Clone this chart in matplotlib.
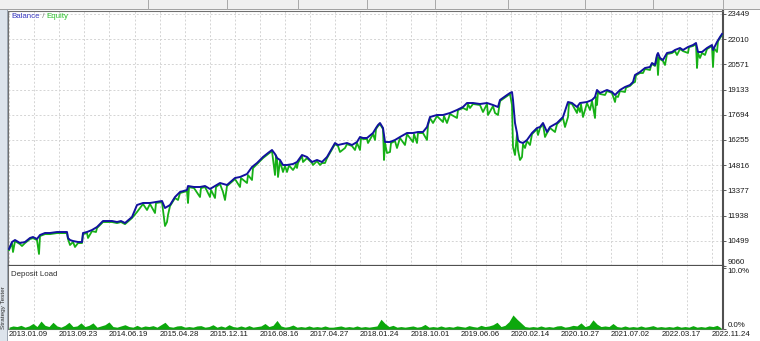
import numpy as np
import matplotlib.pyplot as plt
from matplotlib.patches import Rectangle

plt.rcParams['font.family'] = ['Liberation Sans', 'DejaVu Sans']
plt.rcParams['font.size'] = 5.7

# balance curve: deal position, account value
bal_x = [0, 3, 6, 11, 16, 21, 24, 28, 31, 36,
         41, 48, 54, 58, 59, 61, 64, 69, 73, 74,
         78, 83, 88, 91, 94, 98, 103, 108, 112, 116,
         123, 128, 134, 141, 147, 153, 156, 161, 166, 171,
         178, 179, 185, 191, 196, 201, 206, 211, 218, 226,
         231, 238, 243, 248, 254, 259, 263, 266, 268, 271,
         274, 278, 284, 288, 293, 298, 303, 308, 313, 318,
         322, 326, 329, 338, 343, 348, 351, 354, 358, 364,
         367, 369, 371, 374, 376, 381, 386, 391, 398, 404,
         409, 414, 418, 421, 428, 434, 441, 448, 454, 458,
         464, 471, 478, 484, 489, 491, 498, 501, 503, 504,
         506, 508, 509, 511, 514, 518, 523, 528, 531, 534,
         538, 541, 548, 554, 559, 563, 568, 571, 578, 583,
         586, 588, 591, 598, 603, 606, 611, 616, 621, 624,
         626, 631, 636, 641, 643, 646, 648, 649, 651, 654,
         658, 663, 666, 671, 674, 679, 684, 687, 689, 693,
         698, 703, 704, 708, 711, 713]
bal_v = [10031, 10430, 10544, 10373, 10430, 10659, 10716, 10602, 10830, 10944,
         10944, 11001, 11001, 11001, 10659, 10544, 10487, 10430, 10430, 10944,
         11001, 11115, 11287, 11458, 11629, 11629, 11629, 11572, 11629, 11515,
         11858, 12543, 12658, 12658, 12715, 12772, 12372, 12543, 12999, 13285,
         13399, 13628, 13571, 13571, 13628, 13457, 13628, 13799, 13685, 14085,
         14142, 14313, 14713, 14941, 15284, 15512, 15684, 15455, 15227, 15113,
         14827, 14827, 14884, 14998, 15398, 15284, 14998, 15113, 14998, 15284,
         15684, 16083, 15969, 16083, 15969, 16140, 16426, 16369, 16369, 16654,
         16940, 17111, 17225, 16940, 16140, 16140, 16255, 16426, 16654, 16654,
         16711, 16711, 16997, 17568, 17682, 17682, 17796, 17968, 18139, 18367,
         18367, 18310, 18367, 18253, 18139, 18539, 18824, 18938, 18995, 18539,
         17225, 16654, 16255, 16140, 16083, 16255, 16654, 16940, 16997, 17225,
         16711, 16997, 17225, 17568, 18424, 18367, 18139, 18367, 18424, 18539,
         18710, 19110, 18938, 19110, 18995, 18824, 19110, 19281, 19395, 19566,
         19966, 20137, 20366, 20423, 20651, 20537, 21108, 21222, 20937, 20823,
         21222, 21279, 21394, 21508, 21394, 21565, 21679, 21793, 21279, 21279,
         21508, 21679, 21394, 21850, 22136, 22307]

# equity curve (deal position, value), with the floating drawdowns
equity = [(0, 9970), (3, 10370), (4, 9859), (6, 10480), (11, 10310), (13, 10200), (16, 10370),
          (21, 10600), (24, 10650), (28, 10540), (30, 9745), (31, 10770), (36, 10880), (41, 10880),
          (48, 10940), (54, 10940), (58, 10940), (59, 10600), (61, 10259), (64, 10430), (66, 10145),
          (69, 10370), (73, 10370), (74, 10880), (78, 10940), (79, 10659), (83, 11050), (87, 11001),
          (88, 11230), (91, 11400), (94, 11570), (98, 11570), (103, 11570), (108, 11510), (112, 11570),
          (116, 11450), (123, 11800), (128, 12143), (134, 12600), (138, 12258), (141, 12600),
          (146, 12086), (147, 12655), (153, 12710), (156, 11344), (158, 11572), (159, 11972),
          (161, 12480), (166, 12940), (169, 12829), (171, 13225), (178, 13340), (179, 12658),
          (180, 13560), (185, 13510), (191, 12999), (192, 13510), (196, 13570), (201, 12999),
          (202, 13400), (206, 12943), (207, 13570), (211, 13740), (214, 13285), (216, 12829),
          (218, 13625), (226, 14025), (231, 13571), (232, 14080), (238, 13799), (239, 14250),
          (243, 13971), (244, 14650), (248, 14880), (254, 15220), (259, 15450), (263, 15620),
          (266, 14256), (267, 15380), (268, 15170), (269, 14142), (271, 15050), (274, 14427),
          (276, 14770), (278, 14427), (280, 14800), (284, 14542), (286, 14713), (287, 14900),
          (288, 14656), (289, 14950), (293, 15340), (294, 14998), (298, 15220), (303, 14940),
          (304, 14827), (308, 15050), (311, 14827), (313, 14940), (316, 14941), (318, 15220),
          (322, 15620), (326, 16020), (329, 15910), (331, 15569), (336, 15798), (338, 16020),
          (343, 15910), (346, 15684), (348, 16080), (351, 15684), (352, 16370), (354, 16310),
          (358, 16310), (359, 16083), (364, 16590), (366, 16255), (367, 16880), (369, 17050),
          (371, 17160), (374, 16880), (375, 15113), (376, 16080), (378, 15512), (381, 15569),
          (382, 16080), (386, 16195), (388, 15798), (391, 16365), (396, 15969), (398, 16590),
          (404, 16140), (405, 16590), (408, 16083), (409, 16650), (414, 16650), (418, 16255),
          (419, 17100), (421, 17510), (424, 17225), (428, 17620), (434, 17282), (435, 17620),
          (438, 17225), (441, 17735), (448, 17511), (449, 17960), (454, 18080), (458, 17968),
          (459, 18300), (461, 18082), (464, 18310), (471, 18250), (474, 17853), (478, 18310),
          (479, 17682), (484, 18190), (486, 17796), (489, 17682), (491, 18480), (498, 18760),
          (501, 18880), (503, 18253), (504, 15855), (506, 15398), (508, 16590), (509, 15684),
          (511, 15113), (513, 15284), (514, 16020), (516, 15798), (518, 16195), (521, 15969),
          (523, 16590), (528, 16880), (529, 16540), (531, 16940), (534, 17160), (536, 16426),
          (538, 16650), (541, 16940), (546, 16711), (548, 17160), (554, 17510), (556, 16997),
          (559, 17568), (560, 18350), (563, 18310), (568, 17796), (569, 18150), (571, 17853),
          (572, 18300), (574, 17568), (578, 18360), (581, 17968), (583, 18480), (586, 17511),
          (587, 18700), (588, 18253), (589, 19000), (591, 18880), (596, 18824), (598, 19050),
          (603, 18940), (606, 18424), (607, 18760), (609, 18710), (611, 19050), (616, 18995),
          (617, 19250), (621, 19340), (624, 19510), (626, 19566), (627, 19950), (631, 20080),
          (634, 20080), (636, 20310), (641, 20252), (642, 20500), (643, 20590), (646, 20480),
          (648, 21050), (649, 19966), (650, 21000), (651, 20880), (654, 20760), (656, 20537),
          (658, 21160), (663, 21220), (666, 21330), (668, 21108), (671, 21450), (674, 21330),
          (679, 21222), (680, 21560), (684, 21620), (687, 21730), (688, 20366), (689, 21220),
          (691, 20937), (693, 21220), (696, 21108), (698, 21450), (703, 21620), (704, 20423),
          (705, 21500), (708, 21279), (709, 21900), (711, 22080), (713, 22250)]

# deposit load in %, one reading every 4 deals
load_step = 4
load_v = [0.3, 0.5, 0.4, 0.6, 0.3, 0.5, 0.9, 0.4, 1.3, 0.6,
          0.4, 1.1, 0.5, 0.3, 0.6, 1.1, 0.4, 0.5, 1.0, 0.4,
          0.6, 1.0, 0.3, 0.5, 0.7, 1.15, 0.4, 0.3, 0.5, 0.7,
          0.4, 0.3, 0.6, 0.3, 0.5, 0.4, 0.55, 0.3, 0.7, 1.1,
          0.4, 0.3, 0.5, 0.55, 0.3, 0.4, 0.3, 0.5, 0.55, 0.3,
          0.4, 0.7, 0.3, 0.5, 0.3, 0.7, 0.4, 0.3, 0.5, 0.3,
          0.55, 0.3, 0.4, 0.5, 0.9, 0.4, 0.6, 1.4, 0.5, 0.3,
          0.4, 0.65, 0.3, 0.4, 0.3, 0.5, 0.3, 0.4, 0.3, 0.5,
          0.3, 0.3, 0.4, 0.5, 0.3, 0.4, 0.3, 0.5, 0.3, 0.4,
          0.3, 0.4, 0.5, 1.6, 0.9, 0.4, 0.6, 0.3, 0.4, 0.3,
          0.4, 0.5, 0.3, 0.4, 0.75, 0.3, 0.4, 0.3, 0.5, 0.3,
          0.4, 0.3, 0.5, 0.4, 0.3, 0.55, 0.4, 0.3, 0.6, 0.4,
          0.5, 0.7, 1.1, 0.4, 0.6, 1.2, 2.3, 1.6, 1.0, 0.4,
          0.3, 0.4, 0.3, 0.5, 0.3, 0.4, 0.3, 0.5, 0.55, 0.3,
          0.4, 0.6, 0.5, 1.0, 0.4, 0.6, 1.5, 0.8, 0.4, 0.5,
          0.4, 0.9, 0.4, 0.3, 0.5, 0.3, 0.4, 0.3, 0.5, 0.3,
          0.4, 0.55, 0.3, 0.4, 0.3, 0.4, 0.3, 0.5, 0.3, 0.4,
          0.3, 0.55, 0.3, 0.4, 0.3, 0.5, 0.4, 0.6, 0.2]

y_ticks = [9060, 10499, 11938, 13377, 14816, 16255, 17694, 19133, 20571, 22010, 23449]
date_labels = ['2013.01.09', '2013.09.23', '2014.06.19', '2015.04.28', '2015.12.11',
               '2016.08.16', '2017.04.27', '2018.01.24', '2018.10.01', '2019.06.06',
               '2020.02.14', '2020.10.27', '2021.07.02', '2022.03.17', '2022.11.24']
date_pos = [0, 50, 100, 151, 201, 251, 301, 351, 402, 452, 502, 552, 602, 653, 703]
grid_pos = [0, 25, 50, 75, 100, 126, 151, 176, 201, 226, 251, 276, 301, 326, 351,
            377, 402, 427, 452, 477, 502, 527, 552, 577, 602, 628, 653, 678, 703]

W, H = 760, 341
fig = plt.figure(figsize=(W / 100, H / 100), dpi=100)
fig.patch.set_facecolor('white')

# window chrome: top tab strip and left side panel
fig.patches.append(Rectangle((0, 1 - 9 / H), 1, 9 / H, transform=fig.transFigure,
                             facecolor='#f0f0f0', edgecolor='none', zorder=0))
fig.lines.append(plt.Line2D([0, 1], [1 - 9 / H, 1 - 9 / H], transform=fig.transFigure,
                            color='#a0a0a0', lw=0.7))
for sx in [148, 227, 298, 367, 435, 508, 585, 653, 723]:
    fig.lines.append(plt.Line2D([sx / W, sx / W], [1 - 9 / H, 1], transform=fig.transFigure,
                                color='#a8a8a8', lw=0.7))
fig.patches.append(Rectangle((0, 0), 7 / W, 1 - 9 / H, transform=fig.transFigure,
                             facecolor='#dde4ec', edgecolor='none', zorder=0))
fig.lines.append(plt.Line2D([7 / W, 7 / W], [0, 1 - 9 / H], transform=fig.transFigure,
                            color='#9aa4b0', lw=0.7))
fig.text(3.5 / W, 1 - 308 / H, 'Strategy Tester', rotation=90, fontsize=4.6,
         color='#303030', ha='center', va='center')

ax = fig.add_axes([8 / W, 1 - 266 / H, 715 / W, 255 / H])
ax2 = fig.add_axes([8 / W, 1 - 329 / H, 715 / W, 63 / H])

eq_x = [p[0] for p in equity]
eq_v = [p[1] for p in equity]
ax.plot(eq_x, eq_v, color='#16b016', lw=1.3, zorder=3)
ax.plot(bal_x, bal_v, color='#12129e', lw=1.4, zorder=4)

load_x = np.arange(len(load_v)) * load_step
ax2.fill_between(load_x, load_v, 0, color='#0ca80c', lw=0, zorder=3)

grid_style = dict(color='#d4d4d4', ls=(0, (2, 2)), lw=0.7)
for a in (ax, ax2):
    a.set_xlim(-1, 714)
    a.set_xticks(grid_pos, minor=True)
    a.grid(True, which='minor', axis='x', **grid_style)
    a.tick_params(axis='x', which='both', length=0)
    a.yaxis.tick_right()
    a.tick_params(axis='y', length=2.2, width=0.6, pad=1, colors='#404040',
                  labelcolor='#1a1a1a', labelsize=5.7)
    a.set_axisbelow(True)

ax.set_ylim(9060, 23620)
ax.set_yticks(y_ticks)
ax.grid(True, axis='y', **grid_style)
ax.set_xticks([])
ax.get_yticklabels()[0].set_va('bottom')

ax2.set_ylim(0, 10.3)
ax2.set_yticks([0, 10])
ax2.set_yticklabels(['0.0%', '10.0%'])
ax2.get_yticklabels()[0].set_va('bottom')
ax2.get_yticklabels()[1].set_va('top')
ax2.set_xticks(date_pos)
ax2.set_xticklabels(date_labels, ha='left', color='#1a1a1a')
ax2.tick_params(axis='x', pad=1.5, labelsize=5.7)

for sp in ax.spines.values():
    sp.set_color('#707070')
    sp.set_linewidth(0.8)
ax.spines['right'].set_color('#505050')
ax.spines['right'].set_linewidth(1.5)
ax.spines['bottom'].set_color('#505050')
ax.spines['bottom'].set_linewidth(1.6)
for sp in ax2.spines.values():
    sp.set_color('#707070')
    sp.set_linewidth(0.8)
ax2.spines['top'].set_visible(False)
ax2.spines['right'].set_color('#505050')
ax2.spines['right'].set_linewidth(1.5)

t1 = ax.text(3 / 715, 1 - 6 / 255, 'Balance', transform=ax.transAxes,
             color='#3c3cc4', ha='left', va='center')
t2 = ax.annotate(' / ', xy=(1, 0), xycoords=t1, va='bottom', color='#808080')
ax.annotate('Equity', xy=(1, 0), xycoords=t2, va='bottom', color='#2ec42e')
ax2.text(3 / 715, 1 - 8 / 63, 'Deposit Load', transform=ax2.transAxes,
         color='#303030', ha='left', va='center')

fig.savefig('out.png', dpi=100)
